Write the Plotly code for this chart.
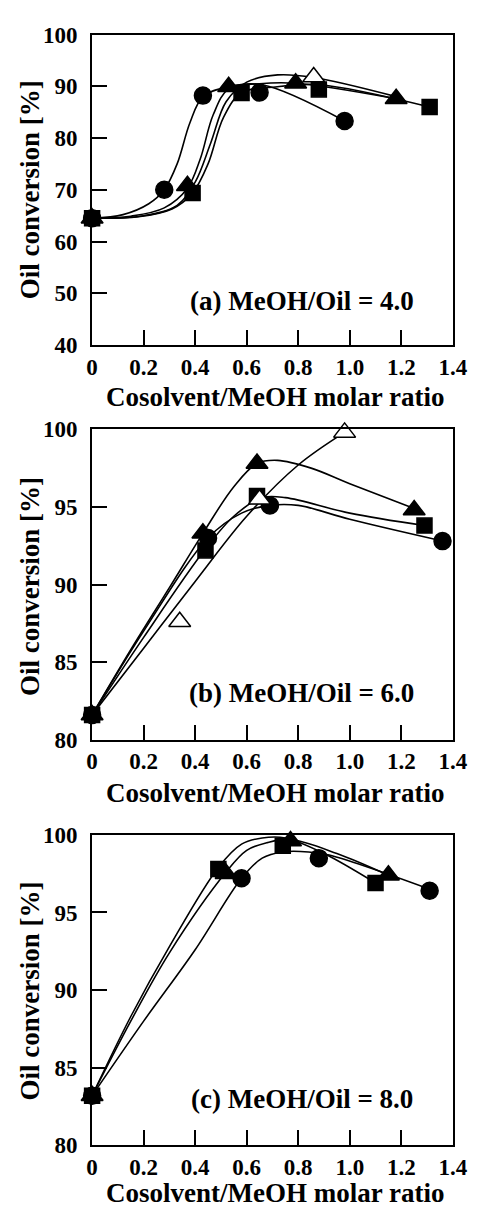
import plotly.graph_objects as go

# ---------------- data ----------------
# Panel (a) MeOH/Oil = 4.0
a_circ_x = [0, 0.28, 0.43, 0.65, 0.98]
a_circ_y = [64.5, 70.0, 88.2, 88.8, 83.3]
a_tri_x = [0, 0.37, 0.53, 0.79, 1.18]
a_tri_y = [64.5, 70.8, 89.9, 90.6, 87.6]
a_sq_x = [0, 0.39, 0.58, 0.88, 1.31]
a_sq_y = [64.5, 69.4, 88.7, 89.4, 86.0]
a_otri_x = [0.86]
a_otri_y = [91.8]
# trend curves (a)
a_circ_cx = [0, 0.12, 0.22, 0.28, 0.33, 0.38, 0.43, 0.52, 0.66, 0.98]
a_circ_cy = [64.5, 65.2, 67.3, 70.0, 75.0, 83.0, 88.0, 89.8, 90.3, 83.3]
a_tri_cx = [0, 0.15, 0.28, 0.37, 0.42, 0.47, 0.53, 0.65, 0.79, 1.18]
a_tri_cy = [64.5, 64.9, 66.5, 70.3, 76.0, 84.5, 89.5, 90.5, 90.6, 87.6]
a_sq_cx = [0, 0.18, 0.31, 0.39, 0.45, 0.51, 0.58, 0.70, 0.88, 1.31]
a_sq_cy = [64.5, 64.8, 66.3, 69.4, 75.0, 84.0, 88.8, 89.8, 90.3, 86.0]
a_otri_cx = [0, 0.20, 0.33, 0.40, 0.46, 0.52, 0.60, 0.72, 0.86, 1.18]
a_otri_cy = [64.5, 65.0, 67.0, 71.5, 79.0, 87.0, 90.8, 92.2, 91.7, 88.0]

# Panel (b) MeOH/Oil = 6.0
b_circ_x = [0, 0.45, 0.69, 1.36]
b_circ_y = [81.6, 93.0, 95.1, 92.8]
b_tri_x = [0, 0.43, 0.64, 1.25]
b_tri_y = [81.6, 93.3, 97.8, 94.8]
b_sq_x = [0, 0.44, 0.64, 1.29]
b_sq_y = [81.6, 92.2, 95.7, 93.8]
b_otri_x = [0.34, 0.65, 0.98]
b_otri_y = [87.6, 95.5, 99.8]
b_tri_cx = [0, 0.15, 0.30, 0.43, 0.55, 0.64, 0.72, 0.85, 1.0, 1.25]
b_tri_cy = [81.6, 85.8, 89.8, 93.3, 96.3, 97.8, 98.0, 97.5, 96.5, 94.9]
b_otri_cx = [0, 0.2, 0.4, 0.6, 0.8, 0.98]
b_otri_cy = [81.6, 85.9, 90.2, 94.4, 97.7, 99.8]
b_sq_cx = [0, 0.2, 0.44, 0.55, 0.66, 0.75, 1.0, 1.29]
b_sq_cy = [81.6, 86.6, 92.3, 94.4, 95.6, 95.6, 94.6, 93.8]
b_circ_cx = [0, 0.2, 0.45, 0.58, 0.69, 0.8, 1.0, 1.36]
b_circ_cy = [81.6, 87.0, 93.0, 94.6, 95.1, 95.1, 94.2, 92.8]

# Panel (c) MeOH/Oil = 8.0
c_circ_x = [0, 0.58, 0.88, 1.31]
c_circ_y = [83.2, 97.2, 98.5, 96.4]
c_tri_x = [0, 0.52, 0.77, 1.15]
c_tri_y = [83.2, 97.5, 99.6, 97.4]
c_sq_x = [0, 0.49, 0.74, 1.10]
c_sq_y = [83.2, 97.8, 99.3, 96.9]
c_otri_x = [1.13]
c_otri_y = [100.3]
c_sq_cx = [0, 0.15, 0.30, 0.49, 0.58, 0.66, 0.75, 0.90, 1.10]
c_sq_cy = [83.2, 88.3, 92.8, 97.9, 99.4, 99.8, 99.8, 98.8, 96.9]
c_tri_cx = [0, 0.15, 0.30, 0.52, 0.60, 0.68, 0.77, 0.95, 1.15]
c_tri_cy = [83.2, 88.0, 92.4, 97.6, 99.0, 99.5, 99.7, 98.8, 97.4]
c_circ_cx = [0, 0.2, 0.4, 0.58, 0.66, 0.74, 0.84, 0.92, 1.31]
c_circ_cy = [83.2, 88.0, 92.6, 97.2, 98.5, 98.9, 98.9, 98.7, 96.5]

x_ticks = [0, 0.2, 0.4, 0.6, 0.8, 1.0, 1.2, 1.4]
x_ticktext = ["0", "0.2", "0.4", "0.6", "0.8", "1.0", "1.2", "1.4"]
a_yticks = [40, 50, 60, 70, 80, 90, 100]
bc_yticks = [80, 85, 90, 95, 100]
panel_labels = ["(a) MeOH/Oil = 4.0", "(b) MeOH/Oil = 6.0", "(c) MeOH/Oil = 8.0"]
x_title = "Cosolvent/MeOH molar ratio"
y_title = "Oil conversion [%]"

# ---------------- figure ----------------
W, H = 486, 1224
FONT = "Liberation Serif"
fig = go.Figure()

def curve(x, y, ax):
    fig.add_trace(go.Scatter(x=x, y=y, mode="lines", xaxis=ax[0], yaxis=ax[1],
                             line=dict(color="black", width=1.6, shape="spline", smoothing=1.0),
                             showlegend=False, hoverinfo="skip"))

def marks(x, y, ax, symbol, size, fill="black"):
    fig.add_trace(go.Scatter(x=x, y=y, mode="markers", xaxis=ax[0], yaxis=ax[1], cliponaxis=False,
                             marker=dict(symbol=symbol, size=size, color=fill,
                                         line=dict(color="black", width=1.5)),
                             showlegend=False))

A = ("x", "y"); B = ("x2", "y2"); C = ("x3", "y3")
CS, TS, SS = 17, 19, 15

curve(a_circ_cx, a_circ_cy, A); curve(a_tri_cx, a_tri_cy, A)
curve(a_sq_cx, a_sq_cy, A); curve(a_otri_cx, a_otri_cy, A)
marks(a_otri_x, a_otri_y, A, "triangle-up", TS, "white")
marks(a_circ_x, a_circ_y, A, "circle", CS)
marks(a_tri_x, a_tri_y, A, "triangle-up", TS)
marks(a_sq_x, a_sq_y, A, "square", SS)

curve(b_tri_cx, b_tri_cy, B); curve(b_otri_cx, b_otri_cy, B)
curve(b_sq_cx, b_sq_cy, B); curve(b_circ_cx, b_circ_cy, B)
marks(b_tri_x, b_tri_y, B, "triangle-up", TS)
marks(b_circ_x, b_circ_y, B, "circle", CS)
marks(b_sq_x, b_sq_y, B, "square", SS)
marks(b_otri_x, b_otri_y, B, "triangle-up", TS, "white")

curve(c_sq_cx, c_sq_cy, C); curve(c_tri_cx, c_tri_cy, C); curve(c_circ_cx, c_circ_cy, C)
marks(c_circ_x, c_circ_y, C, "circle", CS)
marks(c_tri_x, c_tri_y, C, "triangle-up", TS)
marks(c_sq_x, c_sq_y, C, "square", SS)
marks(c_otri_x, c_otri_y, C, "triangle-up", TS, "white")

tickfont = dict(family=FONT, size=23, color="black", weight="bold")
xdom = [90 / W, 467 / W]
boxes = [(23, 340), (426, 743), (840, 1157)]

def xaxis(anchor):
    return dict(domain=xdom, anchor=anchor, range=[0, 1.4], tickvals=x_ticks, ticktext=x_ticktext,
                ticks="inside", ticklen=15, tickwidth=2, tickcolor="black",
                showline=True, linewidth=2, linecolor="black", mirror=True,
                showgrid=False, zeroline=False, tickfont=tickfont, ticklabelstandoff=0,
                fixedrange=True)

def yaxis(anchor, top, bot, rng, vals):
    return dict(domain=[1 - bot / H, 1 - top / H], anchor=anchor, range=rng, tickvals=vals,
                ticks="inside", ticklen=15, tickwidth=2, tickcolor="black",
                showline=True, linewidth=2, linecolor="black", mirror=True,
                showgrid=False, zeroline=False, tickfont=tickfont, ticklabelstandoff=8,
                fixedrange=True)

fig.update_layout(
    width=W, height=H, margin=dict(l=0, r=0, t=0, b=0),
    paper_bgcolor="white", plot_bgcolor="white", showlegend=False,
    xaxis=xaxis("y"), xaxis2=xaxis("y2"), xaxis3=xaxis("y3"),
    yaxis=yaxis("x", *boxes[0], [40, 100], a_yticks),
    yaxis2=yaxis("x2", *boxes[1], [80, 100], bc_yticks),
    yaxis3=yaxis("x3", *boxes[2], [80, 100], bc_yticks),
)

annfont = dict(family=FONT, size=27, color="black", weight="bold")
anns = []
xt_y = [393, 797, 1206]
yt_y = [181, 586, 999]
lab_y = [295, 695, 1110]
for i in range(3):
    anns.append(dict(text=x_title, x=281 / W, y=1 - xt_y[i] / H, xref="paper", yref="paper",
                     showarrow=False, xanchor="center", yanchor="middle", font=annfont))
    anns.append(dict(text=y_title, x=25 / W, y=1 - yt_y[i] / H, xref="paper", yref="paper",
                     showarrow=False, xanchor="center", yanchor="middle", textangle=-90, font=annfont))
    anns.append(dict(text=panel_labels[i], x=309 / W, y=1 - lab_y[i] / H, xref="paper", yref="paper",
                     showarrow=False, xanchor="center", yanchor="middle", font=annfont))
fig.update_layout(annotations=anns)

fig.write_html("out.html")
